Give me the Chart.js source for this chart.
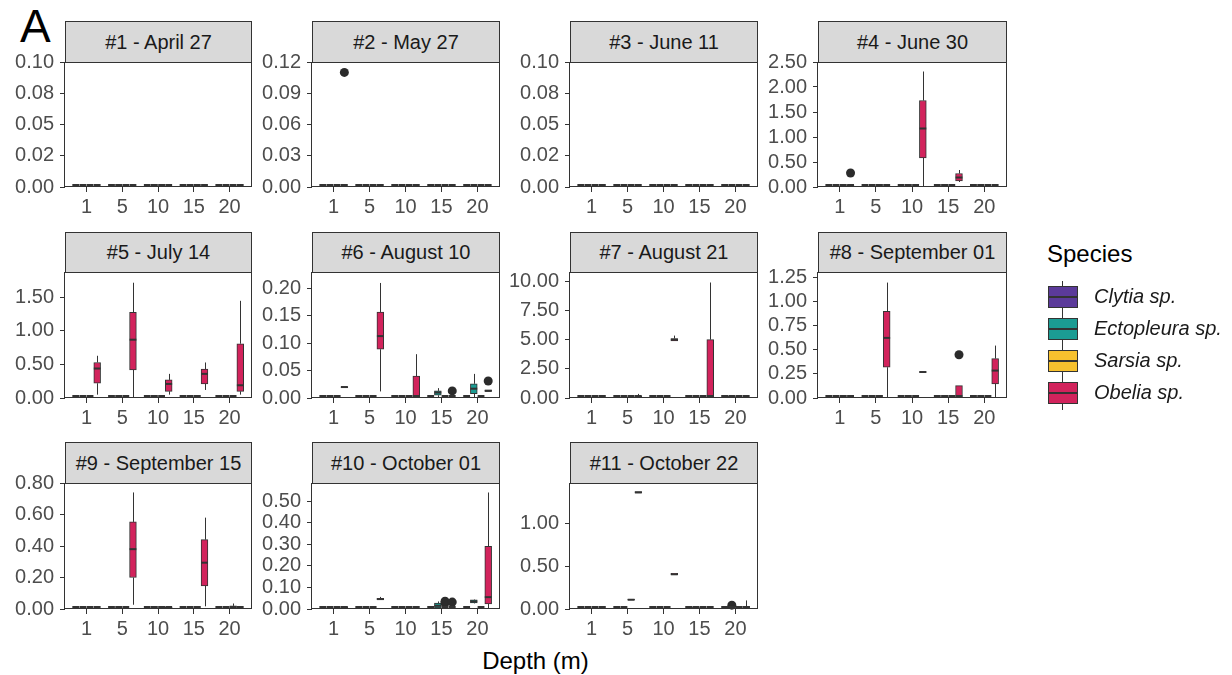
<!DOCTYPE html>
<html>
<head>
<meta charset="utf-8">
<script src="https://cdn.jsdelivr.net/npm/chart.js@4/dist/chart.umd.min.js"></script>
<style>
  html, body { margin: 0; padding: 0; background: #ffffff; }
  body { width: 1232px; height: 675px; position: relative; overflow: hidden;
         font-family: "Liberation Sans", Arial, sans-serif; }
  canvas { position: absolute; }
  .strip { position: absolute; box-sizing: border-box; background: #d9d9d9; border: 1px solid #333333;
           color: #1a1a1a; font-size: 20px; display: flex; align-items: center; justify-content: center;
           white-space: nowrap; }
  .tag { position: absolute; left: 20px; top: 3px; font-size: 46px; line-height: 1; color: #000000; }
  .axis-title { position: absolute; left: 0; width: 1071px; top: 647px; text-align: center;
                font-size: 24px; color: #000000; }
  .legend-title { position: absolute; left: 1047px; top: 240px; font-size: 24px; color: #000000; }
  .key-whisker { position: absolute; width: 1px; background: #333333; }
  .key-box { position: absolute; box-sizing: border-box; border: 1px solid #333333; }
  .key-median { position: absolute; height: 2px; background: #333333; }
  .key-label { position: absolute; font-size: 20px; font-style: italic; color: #1a1a1a; white-space: nowrap; }
</style>
</head>
<body>
<div class="tag">A</div>
<div class="axis-title">Depth (m)</div>
<div class="legend-title">Species</div>
<script>
// ---- data ---------------------------------------------------------------
const depths = [1, 5, 10, 15, 20];
const depthLabels = ['1', '5', '10', '15', '20'];
const species = ['Clytia sp.', 'Ectopleura sp.', 'Sarsia sp.', 'Obelia sp.'];
const speciesColors = ['#5b3a9a', '#1b9c93', '#f7c12e', '#d2235c'];

const sampleTitles = [
  '#1 - April 27', '#2 - May 27', '#3 - June 11', '#4 - June 30',
  '#5 - July 14', '#6 - August 10', '#7 - August 21', '#8 - September 01',
  '#9 - September 15', '#10 - October 01', '#11 - October 22'
];

// upper limit of each panel's y axis
const yMaxima = [0.1, 0.12, 0.1, 2.5, 1.88, 0.23, 10.8, 1.31, 0.8, 0.584, 1.47];

const yTickValues = [
  [0, 0.025, 0.05, 0.075, 0.1],
  [0, 0.03, 0.06, 0.09, 0.12],
  [0, 0.025, 0.05, 0.075, 0.1],
  [0, 0.5, 1, 1.5, 2, 2.5],
  [0, 0.5, 1, 1.5],
  [0, 0.05, 0.1, 0.15, 0.2],
  [0, 2.5, 5, 7.5, 10],
  [0, 0.25, 0.5, 0.75, 1, 1.25],
  [0, 0.2, 0.4, 0.6, 0.8],
  [0, 0.1, 0.2, 0.3, 0.4, 0.5],
  [0, 0.5, 1]
];
const yTickLabels = [
  ['0.00', '0.02', '0.05', '0.08', '0.10'],
  ['0.00', '0.03', '0.06', '0.09', '0.12'],
  ['0.00', '0.02', '0.05', '0.08', '0.10'],
  ['0.00', '0.50', '1.00', '1.50', '2.00', '2.50'],
  ['0.00', '0.50', '1.00', '1.50'],
  ['0.00', '0.05', '0.10', '0.15', '0.20'],
  ['0.00', '2.50', '5.00', '7.50', '10.00'],
  ['0.00', '0.25', '0.50', '0.75', '1.00', '1.25'],
  ['0.00', '0.20', '0.40', '0.60', '0.80'],
  ['0.00', '0.10', '0.20', '0.30', '0.40', '0.50'],
  ['0.00', '0.50', '1.00']
];

// box statistics that are not all zero:
// [sample, depth (m), species index, min, q1, median, q3, max]
const boxStats = [
  [4, 1, 3, 0.00, 0.00, 0.00, 0.04, 0.05],
  [4, 10, 3, 0.00, 0.58, 1.17, 1.73, 2.31],
  [4, 15, 3, 0.10, 0.12, 0.19, 0.27, 0.34],

  [5, 1, 3, 0.05, 0.22, 0.44, 0.53, 0.63],
  [5, 5, 3, 0.00, 0.42, 0.87, 1.28, 1.72],
  [5, 10, 3, 0.05, 0.10, 0.21, 0.27, 0.36],
  [5, 15, 3, 0.12, 0.21, 0.36, 0.43, 0.53],
  [5, 20, 3, 0.05, 0.10, 0.19, 0.81, 1.45],

  [6, 1, 3, 0.019, 0.019, 0.020, 0.021, 0.021],
  [6, 5, 3, 0.012, 0.089, 0.113, 0.157, 0.21],
  [6, 10, 2, 0.00, 0.00, 0.00, 0.00, 0.004],
  [6, 10, 3, 0.00, 0.00, 0.00, 0.04, 0.08],
  [6, 15, 1, 0.00, 0.005, 0.010, 0.013, 0.018],
  [6, 20, 1, 0.00, 0.008, 0.017, 0.026, 0.044],
  [6, 20, 3, 0.012, 0.012, 0.013, 0.015, 0.015],

  [7, 5, 3, 0.00, 0.00, 0.05, 0.15, 0.35],
  [7, 10, 3, 4.90, 4.90, 5.00, 5.10, 5.35],
  [7, 15, 3, 0.00, 0.00, 0.00, 5.00, 9.90],
  [7, 20, 1, 0.00, 0.00, 0.05, 0.15, 0.25],

  [8, 5, 3, 0.00, 0.32, 0.625, 0.90, 1.20],
  [8, 10, 3, 0.265, 0.265, 0.27, 0.275, 0.275],
  [8, 15, 3, 0.00, 0.00, 0.00, 0.128, 0.128],
  [8, 20, 3, 0.00, 0.146, 0.285, 0.41, 0.545],

  [9, 5, 3, 0.027, 0.20, 0.38, 0.553, 0.74],
  [9, 10, 3, 0.00, 0.00, 0.005, 0.01, 0.015],
  [9, 15, 3, 0.017, 0.147, 0.294, 0.44, 0.58],
  [9, 20, 2, 0.00, 0.00, 0.01, 0.02, 0.035],

  [10, 1, 3, 0.00, 0.00, 0.005, 0.01, 0.012],
  [10, 5, 3, 0.043, 0.043, 0.046, 0.05, 0.056],
  [10, 15, 1, 0.00, 0.005, 0.015, 0.028, 0.035],
  [10, 20, 1, 0.026, 0.028, 0.035, 0.042, 0.044],
  [10, 20, 3, 0.00, 0.023, 0.055, 0.29, 0.54],

  [11, 5, 2, 0.105, 0.105, 0.108, 0.112, 0.112],
  [11, 5, 3, 1.355, 1.355, 1.36, 1.37, 1.37],
  [11, 10, 3, 0.40, 0.40, 0.405, 0.415, 0.415],
  [11, 15, 1, 0.00, 0.00, 0.01, 0.02, 0.025],
  [11, 20, 1, 0.00, 0.00, 0.01, 0.02, 0.03],
  [11, 20, 3, 0.00, 0.00, 0.01, 0.03, 0.10]
];

// outlying observations: [sample, depth (m), species index, value]
const outlierValues = [
  [2, 1, 3, 0.11],
  [4, 1, 3, 0.28],
  [6, 15, 3, 0.013],
  [6, 20, 3, 0.031],
  [8, 15, 3, 0.45],
  [10, 15, 2, 0.028],
  [10, 15, 2, 0.036],
  [10, 15, 3, 0.032],
  [11, 20, 1, 0.045]
];

// ---- layout ---------------------------------------------------------------
const columnLeft = [65, 312, 570, 818];
const columnWidth = [186, 187, 187, 188];
const rowTop = [62, 272, 483];
const rowHeight = [125, 126, 126];
const stripTop = [21, 232, 442];

const X_MIN = 0.4, X_MAX = 5.6;             // discrete axis with 0.6 expansion
const speciesOffset = [-0.3, -0.1, 0.1, 0.3];  // dodged positions inside a depth
const BOX_WIDTH = 0.19;
const AXIS_W = 62, PAD_TOP = 24, PAD_RIGHT = 8, AXIS_H = 34;
const FONT = '"Liberation Sans", Arial, sans-serif';
const INK = '#333333';

function statsFor(sample, depth, sp) {
  const row = boxStats.find(b => b[0] === sample && b[1] === depth && b[2] === sp);
  return row ? row.slice(3) : [0, 0, 0, 0, 0];
}

// whiskers under the boxes, medians on top, panel frame last
const boxPlotPlugin = {
  id: 'boxWhiskers',
  beforeDatasetsDraw(chart) {
    const boxes = chart.$boxes;
    if (!boxes) return;
    const { ctx, scales: { x, y } } = chart;
    ctx.save();
    ctx.strokeStyle = INK;
    ctx.lineWidth = 1;
    boxes.forEach(b => {
      const px = Math.round(x.getPixelForValue(b.pos)) + 0.5;
      ctx.beginPath();
      if (b.max > b.q3) { ctx.moveTo(px, y.getPixelForValue(b.q3)); ctx.lineTo(px, y.getPixelForValue(b.max)); }
      if (b.min < b.q1) { ctx.moveTo(px, y.getPixelForValue(b.q1)); ctx.lineTo(px, y.getPixelForValue(b.min)); }
      ctx.stroke();
    });
    ctx.restore();
  },
  afterDatasetsDraw(chart) {
    const boxes = chart.$boxes;
    if (!boxes) return;
    const { ctx, scales: { x, y } } = chart;
    const half = (x.getPixelForValue(BOX_WIDTH) - x.getPixelForValue(0)) / 2;
    ctx.save();
    ctx.strokeStyle = INK;
    ctx.lineWidth = 2;
    boxes.forEach(b => {
      const px = x.getPixelForValue(b.pos);
      const py = Math.min(y.getPixelForValue(b.median), Math.round(chart.chartArea.bottom) - 2);
      ctx.beginPath();
      ctx.moveTo(px - half, py);
      ctx.lineTo(px + half, py);
      ctx.stroke();
    });
    ctx.restore();
  },
  afterDraw(chart) {
    const { ctx, chartArea: a } = chart;
    ctx.save();
    ctx.strokeStyle = INK;
    ctx.lineWidth = 1;
    ctx.strokeRect(Math.round(a.left) - 0.5, Math.round(a.top) + 0.5,
                   Math.round(a.right - a.left) + 1, Math.round(a.bottom - a.top) - 1);
    ctx.restore();
  }
};

sampleTitles.forEach((title, i) => {
  const sample = i + 1;
  const col = i % 4, row = Math.floor(i / 4);
  const L = columnLeft[col], W = columnWidth[col];
  const T = rowTop[row], H = rowHeight[row];

  // strip header
  const strip = document.createElement('div');
  strip.className = 'strip';
  strip.style.left = L + 'px';
  strip.style.top = stripTop[row] + 'px';
  strip.style.width = (W + 1) + 'px';
  strip.style.height = (T - stripTop[row] + 1) + 'px';
  strip.textContent = title;
  document.body.appendChild(strip);

  // panel canvas
  const canvas = document.createElement('canvas');
  const cw = AXIS_W + W + PAD_RIGHT, ch = PAD_TOP + H + AXIS_H;
  canvas.width = cw; canvas.height = ch;
  canvas.style.width = cw + 'px'; canvas.style.height = ch + 'px';
  canvas.style.left = (L - AXIS_W) + 'px';
  canvas.style.top = (T - PAD_TOP) + 'px';
  document.body.appendChild(canvas);

  const boxes = [];
  depths.forEach((d, di) => {
    species.forEach((sp, si) => {
      const [min, q1, median, q3, max] = statsFor(sample, d, si);
      boxes.push({ pos: di + 1 + speciesOffset[si], species: si, min, q1, median, q3, max });
    });
  });
  const outliers = outlierValues
    .filter(o => o[0] === sample)
    .map(o => ({ x: depths.indexOf(o[1]) + 1 + speciesOffset[o[2]], y: o[3] }));

  const unitPx = W / (X_MAX - X_MIN);

  const chart = new Chart(canvas, {
    type: 'bar',
    data: {
      datasets: [
        {
          type: 'scatter',
          order: 0,
          data: outliers,
          pointRadius: 4.5,
          pointBackgroundColor: '#2b2b2b',
          pointBorderColor: '#2b2b2b',
          pointBorderWidth: 0,
          clip: false
        },
        {
          type: 'bar',
          order: 1,
          data: boxes.map(b => ({ x: b.pos, y: [b.q1, b.q3] })),
          backgroundColor: boxes.map(b => speciesColors[b.species]),
          borderColor: INK,
          borderWidth: 1,
          borderSkipped: false,
          barThickness: BOX_WIDTH * unitPx
        }
      ]
    },
    options: {
      responsive: false,
      animation: false,
      devicePixelRatio: 1,
      layout: { padding: { top: PAD_TOP, right: PAD_RIGHT, left: 0, bottom: 0 } },
      plugins: { legend: { display: false }, tooltip: { enabled: false }, title: { display: false } },
      scales: {
        x: {
          type: 'linear',
          min: X_MIN, max: X_MAX,
          offset: false,
          afterBuildTicks: s => { s.ticks = depths.map((d, k) => ({ value: k + 1 })); },
          afterFit: s => { s.height = AXIS_H; },
          ticks: {
            autoSkip: false, maxRotation: 0, padding: 3,
            color: '#4d4d4d', font: { family: FONT, size: 20 },
            callback: v => depthLabels[Math.round(v) - 1]
          },
          grid: { display: true, drawOnChartArea: false, offset: false, tickLength: 5, color: INK, lineWidth: 1 },
          border: { display: false }
        },
        y: {
          type: 'linear',
          min: 0, max: yMaxima[i],
          afterBuildTicks: s => { s.ticks = yTickValues[i].map(v => ({ value: v })); },
          afterFit: s => { s.width = AXIS_W; },
          ticks: {
            autoSkip: false, padding: 6,
            color: '#4d4d4d', font: { family: FONT, size: 20 },
            callback: (v, k) => yTickLabels[i][k]
          },
          grid: { display: true, drawOnChartArea: false, tickLength: 5, color: INK, lineWidth: 1 },
          border: { display: false }
        }
      }
    },
    plugins: [boxPlotPlugin]
  });
  chart.$boxes = boxes;
  chart.update();
});

// legend keys
const keyCenters = [297, 329, 361, 393];
species.forEach((name, k) => {
  const cy = keyCenters[k];
  const wh = document.createElement('div');
  wh.className = 'key-whisker';
  wh.style.left = '1062px'; wh.style.top = (cy - 16) + 'px'; wh.style.height = '33px';
  document.body.appendChild(wh);

  const box = document.createElement('div');
  box.className = 'key-box';
  box.style.left = '1048px'; box.style.top = (cy - 11) + 'px';
  box.style.width = '30px'; box.style.height = '22px';
  box.style.background = speciesColors[k];
  document.body.appendChild(box);

  const med = document.createElement('div');
  med.className = 'key-median';
  med.style.left = '1048px'; med.style.top = (cy - 1) + 'px'; med.style.width = '30px';
  document.body.appendChild(med);

  const lab = document.createElement('div');
  lab.className = 'key-label';
  lab.style.left = '1094px'; lab.style.top = (cy - 12) + 'px';
  lab.textContent = name;
  document.body.appendChild(lab);
});
</script>
</body>
</html>
